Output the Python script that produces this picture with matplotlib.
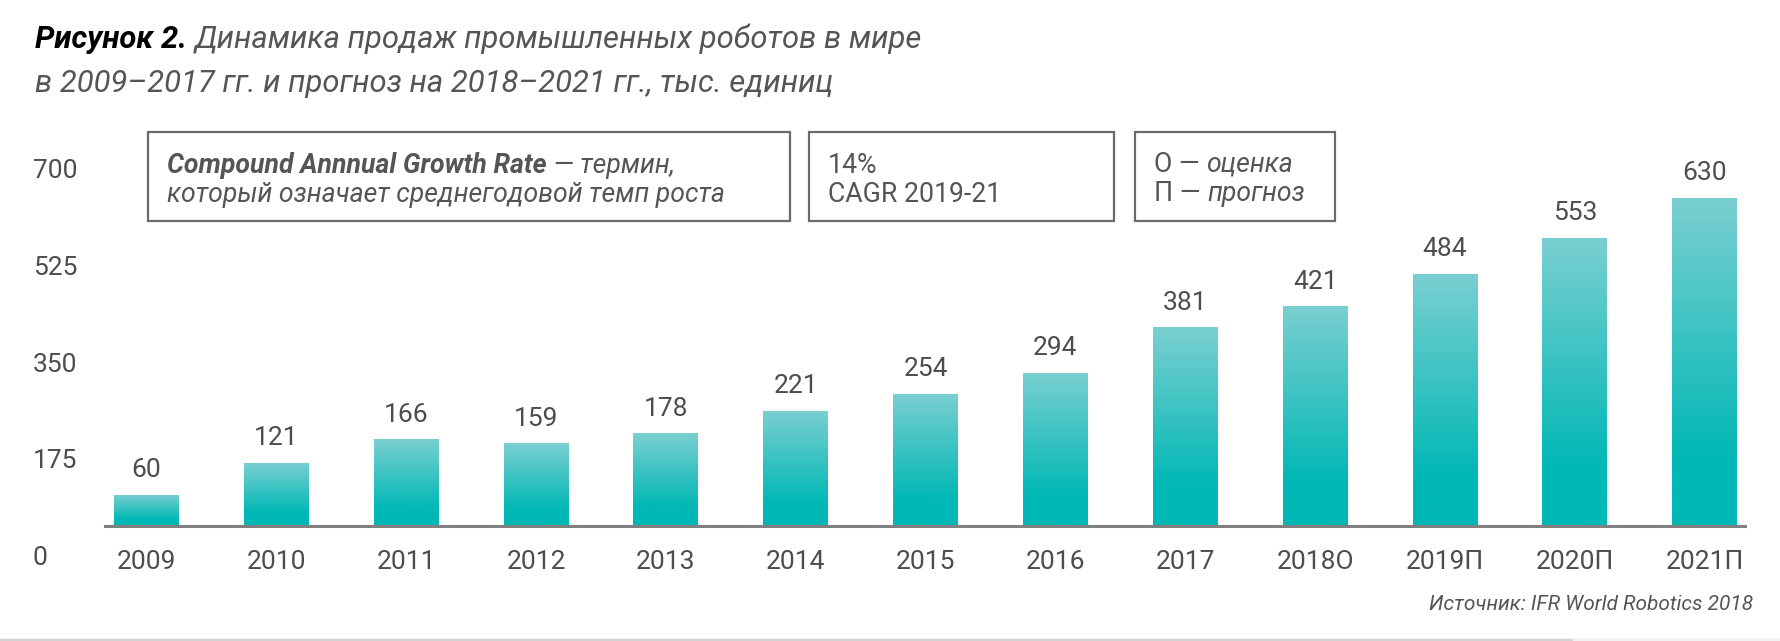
#!/usr/bin/env python3
"""
Bar chart: industrial robot sales worldwide 2009-2017 and forecast 2018-2021.
"""
import numpy as np
import matplotlib
matplotlib.use('Agg')
import matplotlib.pyplot as plt
from matplotlib.patches import Rectangle
from matplotlib.colors import to_rgb

# data
years = ['2009', '2010', '2011', '2012', '2013', '2014', '2015', '2016',
         '2017', '2018О', '2019П', '2020П', '2021П']
sales = [60, 121, 166, 159, 178, 221, 254, 294, 381, 421, 484, 553, 630]
y_ticks = [0, 175, 350, 525, 700]

title_bold = 'Рисунок 2.'
title_line1 = 'Динамика продаж промышленных роботов в мире'
title_line2 = 'в 2009–2017 гг. и прогноз на 2018–2021 гг., тыс. единиц'
source = 'Источник: IFR World Robotics 2018'

plt.rcParams['font.family'] = ['Roboto', 'DejaVu Sans']

W, H = 1781, 641
TXT = '#4d4d4d'
FS = 19
fig = plt.figure(figsize=(W / 100, H / 100), dpi=100)
renderer = fig.canvas.get_renderer()


def text_run(x, y, parts, **kw):
    """Draw text pieces one after another on a shared baseline (pixel coords, y from top)."""
    for s, style in parts:
        t = fig.text(x / W, 1 - y / H, s, va='baseline', ha='left', **kw, **style)
        x = t.get_window_extent(renderer).x1


# title
text_run(35, 48, [(title_bold + ' ', dict(weight='bold', style='italic', color='black')),
                  (title_line1, dict(style='italic', color='#555555'))], fontsize=22.3)
text_run(35, 92, [(title_line2, dict(style='italic', color='#555555'))], fontsize=22.3)

# main axes: baseline at y=526 px from top
ax = fig.add_axes([105 / W, (H - 526) / H, 1640 / W, 365 / H])
x = np.arange(len(years))
bars = ax.bar(x, sales, width=0.5, color='none', edgecolor='none')

# vertical gradient for bars
top = np.array(to_rgb('#7bcfd1'))
bot = np.array(to_rgb('#00b8b5'))
t = np.linspace(0, 1, 256)
w = np.clip((t - 0.2) / 0.8, 0, 1)[:, None]
grad = (bot * (1 - w) + top * w)[:, None, :]
for b in bars:
    x0, y0 = b.get_xy()
    im = ax.imshow(grad, extent=[x0, x0 + b.get_width(), 0, b.get_height()],
                   origin='lower', aspect='auto', interpolation='bilinear', zorder=2)
    im.set_clip_path(b)

for xi, v in zip(x, sales):
    ax.annotate(str(v), (xi, v), xytext=(0, 9), textcoords='offset points',
                ha='center', va='bottom', fontsize=FS, color=TXT)

ax.set_xlim(-0.32, 12.31)
ax.set_ylim(0, 700)
ax.set_xticks(x)
ax.set_xticklabels(years, fontsize=FS, color=TXT)
ax.tick_params(axis='x', length=0, pad=17)
ax.set_yticks([])
for s in ['top', 'right', 'left']:
    ax.spines[s].set_visible(False)
ax.spines['bottom'].set_color('#808080')
ax.spines['bottom'].set_linewidth(2.2)
ax.set_facecolor('none')

# y labels (drawn on their own scale, as in the original)
ay = fig.add_axes([0, (H - 558) / H, 0.05, 387 / H])
ay.set_ylim(0, 700)
ay.axis('off')
for v in y_ticks:
    ay.text(33 / (0.05 * W), v, str(v), transform=ay.get_yaxis_transform(),
            ha='left', va='center', fontsize=FS, color=TXT)

# info boxes
box_style = dict(fill=False, edgecolor='#6b6b6b', linewidth=1.6)
for l, r in [(148, 790), (809, 1114), (1135, 1335)]:
    fig.patches.append(Rectangle((l / W, (H - 221) / H), (r - l) / W, 89 / H,
                                 transform=fig.transFigure, **box_style))

text_run(167, 173, [('Compound Annnual Growth Rate', dict(weight='bold', style='italic')),
                    (' — термин,', dict(style='italic'))], fontsize=19.2, color='#555555')
text_run(167, 202, [('который означает среднегодовой темп роста', dict(style='italic'))],
         fontsize=19.2, color='#555555')
text_run(828, 173, [('14%', {})], fontsize=19.2, color='#555555')
text_run(828, 202, [('CAGR 2019-21', {})], fontsize=19.2, color='#555555')
text_run(1154, 172, [('О — ', {}), ('оценка', dict(style='italic'))], fontsize=19.2, color='#555555')
text_run(1154, 201, [('П — ', {}), ('прогноз', dict(style='italic'))], fontsize=19.2, color='#555555')

# source
fig.text(1753 / W, 1 - 610 / H, source, ha='right', va='baseline',
         style='italic', fontsize=15, color='#555555')

# faint page edge at the bottom
fig.patches.append(Rectangle((0, 0), 1, 3 / H, transform=fig.transFigure,
                             facecolor='#f2f2f2', edgecolor='none'))
fig.patches.append(Rectangle((0, 0), 1573 / W, 2 / H, transform=fig.transFigure,
                             facecolor='#d4d4d4', edgecolor='none'))

fig.savefig('out.png', dpi=100, facecolor='white')
